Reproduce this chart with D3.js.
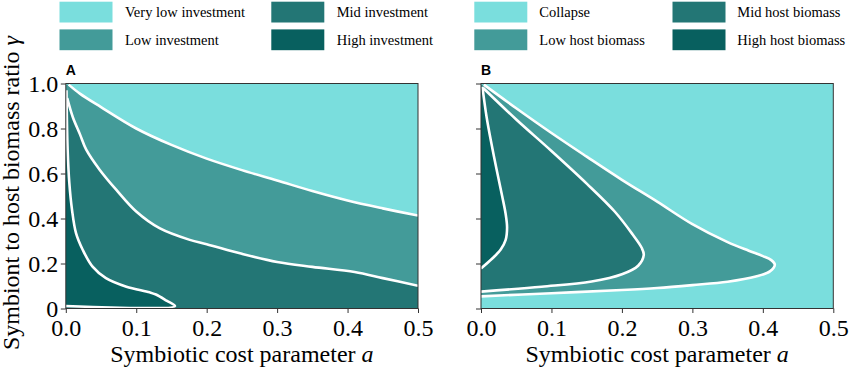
<!DOCTYPE html>
<html><head><meta charset="utf-8">
<script src="https://cdn.jsdelivr.net/npm/d3@7"></script>
<style>body{margin:0;background:#fff}svg{display:block}</style>
</head><body><svg id="c" width="850" height="370"></svg>
<script>
// ---------- data ----------
const xTicks = [0, 0.1, 0.2, 0.3, 0.4, 0.5];
const xTickLabels = ["0.0", "0.1", "0.2", "0.3", "0.4", "0.5"];
const yTicks = [0, 0.2, 0.4, 0.6, 0.8, 1.0];
const yTickLabels = ["0", "0.2", "0.4", "0.6", "0.8", "1.0"];
const legendA = ["Very low investment", "Low investment", "Mid investment", "High investment"];
const legendB = ["Collapse", "Low host biomass", "Mid host biomass", "High host biomass"];
const colors = ["#7adedd", "#439b99", "#237675", "#08605f"];

// Panel A boundaries [a, gamma]
const aVeryLowLow = [[0.004,0.995],[0.02,0.955],[0.05,0.895],[0.1,0.8],[0.15,0.727],[0.2,0.666],[0.25,0.615],[0.3,0.569],[0.35,0.522],[0.4,0.48],[0.45,0.445],[0.5,0.413]];
const aLowMid = [[0.002,0.935],[0.01,0.85],[0.02,0.775],[0.029,0.706],[0.048,0.617],[0.0715,0.528],[0.1,0.431],[0.133,0.357],[0.176,0.305],[0.2,0.286],[0.25,0.243],[0.3,0.207],[0.35,0.185],[0.41,0.162],[0.45,0.135],[0.5,0.101]];
const aMidHigh = [[0.001,0.97],[0.0015,0.85],[0.0026,0.706],[0.005,0.558],[0.0088,0.439],[0.0145,0.335],[0.024,0.261],[0.038,0.186],[0.057,0.135],[0.086,0.097],[0.119,0.072],[0.128,0.062],[0.143,0.035],[0.155,0.011],[0,0.011]];

// Panel B boundaries [a, gamma]
const bCollapseLow = [[0.004,0.995],[0.05,0.89],[0.1,0.78],[0.15,0.675],[0.2,0.572],[0.25,0.475],[0.3,0.375],[0.35,0.295],[0.38,0.257],[0.40,0.233],[0.412,0.215],[0.417,0.195],[0.41,0.165],[0.39,0.142],[0.35,0.119],[0.3,0.104],[0.25,0.091],[0.2,0.082],[0.1,0.068],[0,0.054]];
const bLowMid = [[0.003,0.98],[0.05,0.84],[0.1,0.70],[0.15,0.555],[0.19,0.43],[0.215,0.33],[0.228,0.27],[0.231,0.238],[0.223,0.19],[0.2,0.152],[0.157,0.12],[0.086,0.097],[0,0.075]];
const bMidHigh = [[0.002,0.985],[0.008,0.85],[0.015,0.73],[0.022,0.62],[0.03,0.5],[0.035,0.42],[0.037,0.36],[0.035,0.305],[0.028,0.262],[0.016,0.222],[0,0.178]];

// ---------- drawing ----------
const svg = d3.select("#c");
const serif = "'Liberation Serif','Times New Roman',serif";
const plotTop = 83.5, plotBottom = 308.5;

function panel(x0, x1, label, showYLabels, regions, boundaries) {
  const x = d3.scaleLinear().domain([0, 0.5]).range([x0, x1]);
  const y = d3.scaleLinear().domain([0, 1]).range([plotBottom, plotTop]);
  const g = svg.append("g");
  const clipId = "clip" + label;
  svg.append("clipPath").attr("id", clipId).append("rect")
    .attr("x", x0).attr("y", plotTop).attr("width", x1 - x0).attr("height", plotBottom - plotTop);
  const body = g.append("g").attr("clip-path", `url(#${clipId})`);
  body.append("rect").attr("x", x0).attr("y", plotTop).attr("width", x1 - x0).attr("height", plotBottom - plotTop)
    .attr("fill", colors[0]);
  const line = d3.line().x(d => x(d[0])).y(d => y(d[1])).curve(d3.curveCatmullRom.alpha(0.5));
  regions.forEach(r => {
    const corners = r.corners.map(p => `L${x(p[0])},${y(p[1])}`).join("");
    body.append("path").attr("d", line(r.pts) + corners + "Z").attr("fill", colors[r.c]);
  });
  boundaries.forEach(b => {
    body.append("path").attr("d", line(b)).attr("fill", "none")
      .attr("stroke", "#fff").attr("stroke-width", 2.6).attr("stroke-linejoin", "round");
  });
  // axes
  const xa = g.append("g").attr("transform", `translate(0,${plotBottom})`)
    .call(d3.axisBottom(x).tickValues(xTicks).tickFormat((d, i) => xTickLabels[i]).tickSize(4.5).tickPadding(5.5));
  const ya = g.append("g").attr("transform", `translate(${x0},0)`)
    .call(d3.axisLeft(y).tickValues(yTicks).tickFormat((d, i) => showYLabels ? yTickLabels[i] : "").tickSize(5).tickPadding(2.5));
  [xa, ya].forEach(a => {
    a.select(".domain").remove();
    a.selectAll("line").attr("stroke", "#333").attr("stroke-width", 1);
    a.selectAll("text").attr("font-family", serif).attr("font-size", 24).attr("fill", "#000");
  });
  xa.selectAll("text").attr("dy", "0.71em");
  g.append("rect").attr("x", x0).attr("y", plotTop).attr("width", x1 - x0).attr("height", plotBottom - plotTop)
    .attr("fill", "none").attr("stroke", "#333").attr("stroke-width", 1);
  // x title
  const xt = g.append("text").attr("x", (x0 + x1) / 2).attr("y", 362).attr("text-anchor", "middle")
    .attr("font-family", serif).attr("font-size", 24).attr("fill", "#000");
  xt.append("tspan").text("Symbiotic cost parameter ");
  xt.append("tspan").attr("font-style", "italic").text("a");
  // panel label
  g.append("text").attr("x", x0).attr("y", 75).text(label)
    .attr("font-family", "'Liberation Sans',Arial,sans-serif").attr("font-weight", "bold").attr("font-size", 14);
}

panel(65.8, 418, "A", true,
  [
    {pts: aVeryLowLow, corners: [[0.5, 0], [0, 0], [0, 0.995]], c: 1},
    {pts: aLowMid, corners: [[0.5, 0], [0, 0], [0, 0.935]], c: 2},
    {pts: aMidHigh, corners: [[0, 0.97]], c: 3}
  ],
  [aVeryLowLow, aLowMid, aMidHigh]);

panel(481, 833.3, "B", false,
  [
    {pts: bCollapseLow, corners: [[0, 0.995]], c: 1},
    {pts: bLowMid, corners: [[0, 0.98]], c: 2},
    {pts: bMidHigh, corners: [[0, 0.985]], c: 3}
  ],
  [bCollapseLow, bLowMid, bMidHigh]);

// y title
const yt = svg.append("text").attr("transform", "translate(19,193) rotate(-90)")
  .attr("text-anchor", "middle").attr("font-family", serif).attr("font-size", 24).attr("fill", "#000");
yt.append("tspan").text("Symbiont to host biomass ratio ");
yt.append("tspan").attr("font-style", "italic").text("γ");

// legends
function legend(labels, xs, txs) {
  labels.forEach((t, i) => {
    const col = Math.floor(i / 2), row = i % 2;
    svg.append("rect").attr("x", xs[col]).attr("y", 1.7 + row * 27.7).attr("width", 53).attr("height", 20.8)
      .attr("fill", colors[i]);
    svg.append("text").attr("x", txs[col]).attr("y", 17.3 + row * 27.7).text(t)
      .attr("font-family", serif).attr("font-size", 14.5).attr("fill", "#000");
  });
}
legend(legendA, [59.5, 271.3], [125, 336.7]);
legend(legendB, [474.3, 672.5], [539.3, 737.3]);
</script></body></html>
